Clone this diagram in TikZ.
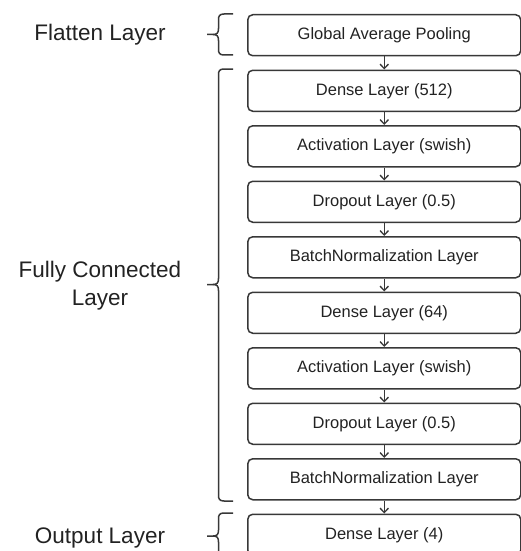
\documentclass[tikz,border=0pt]{standalone}
\usepackage{fontspec}
\setmainfont{Liberation Sans}
\usetikzlibrary{arrows.meta}
\definecolor{linec}{HTML}{383838}
\definecolor{textc}{HTML}{222222}
\begin{document}
\begin{tikzpicture}[x=1pt,y=-1pt,
  layerbox/.style={draw=linec, line width=1.5pt, rounded corners=5pt, minimum width=273pt, minimum height=41pt, inner sep=0pt, text=textc, font=\fontsize{16.5}{19}\selectfont, anchor=north west},
  flowarrow/.style={draw=linec, line width=1.3pt, -{Straight Barb[length=4.5pt,width=8.5pt,line width=1.3pt]}},
  bracepath/.style={draw=linec, line width=1.5pt},
  grouplabel/.style={text=textc, font=\fontsize{22.5}{28}\selectfont, align=center}]
\useasboundingbox (0,0) rectangle (521,551);
\clip (0,0) rectangle (521,551);
\node[layerbox] (b0) at (247,14) {Global Average Pooling};
\node[layerbox] (b1) at (247,69.5) {Dense Layer (512)};
\node[layerbox] (b2) at (247,125) {Activation Layer (swish)};
\node[layerbox] (b3) at (247,180.5) {Dropout Layer (0.5)};
\node[layerbox] (b4) at (247,236) {BatchNormalization Layer};
\node[layerbox] (b5) at (247,291.5) {Dense Layer (64)};
\node[layerbox] (b6) at (247,347) {Activation Layer (swish)};
\node[layerbox] (b7) at (247,402.5) {Dropout Layer (0.5)};
\node[layerbox] (b8) at (247,458) {BatchNormalization Layer};
\node[layerbox] (b9) at (247,513.5) {Dense Layer (4)};
\foreach \a/\b in {b0/b1,b1/b2,b2/b3,b3/b4,b4/b5,b5/b6,b6/b7,b7/b8,b8/b9}
  \draw[flowarrow] (\a.south) -- (\b.north);
% braces
\newcommand{\mybrace}[3]{%
  \draw[bracepath] (233,#1) -- (224,#1) .. controls (219.5,#1) and (218.5,#1+2) .. (218.5,#1+6)
    -- (218.5,#3-6) .. controls (218.5,#3-1.5) and (217,#3) .. (213,#3) -- (207,#3);
  \draw[bracepath] (213,#3) .. controls (217,#3) and (218.5,#3+1.5) .. (218.5,#3+6)
    -- (218.5,#2-6) .. controls (218.5,#2-2) and (219.5,#2) .. (224,#2) -- (233,#2);}
\mybrace{14}{55}{34.5}
\mybrace{69}{501}{284.5}
\mybrace{513}{559}{536}
\node[grouplabel] (lflat) at (100,35) {Flatten Layer};
\node[grouplabel] (lfc) at (100,286) {Fully Connected\\Layer};
\node[grouplabel] (lout) at (100,538) {Output Layer};
\end{tikzpicture}
\end{document}
